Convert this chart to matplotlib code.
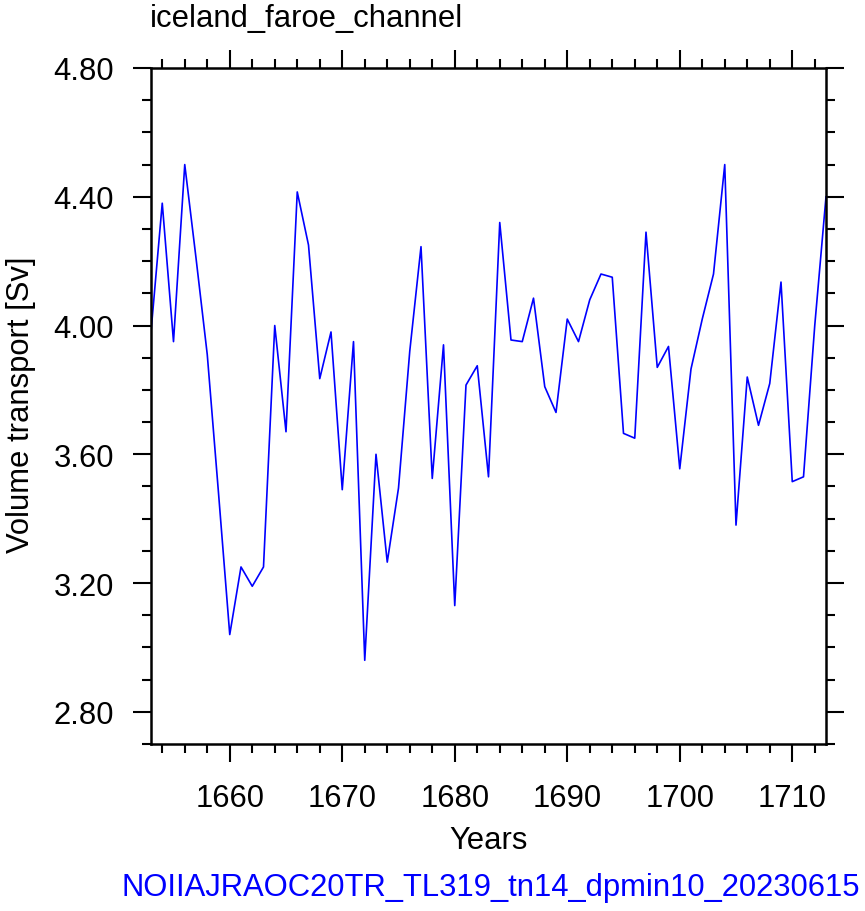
import matplotlib
matplotlib.use("Agg")
import matplotlib.pyplot as plt
from matplotlib.ticker import MultipleLocator, FixedLocator
import numpy as np

plt.rcParams['font.family'] = ['Liberation Sans', 'DejaVu Sans']

years = list(range(1653, 1714))
transport = [3.98, 4.38, 3.95, 4.50, 4.21, 3.91, 3.48, 3.04, 3.25, 3.19,
             3.25, 4.00, 3.67, 4.415, 4.25, 3.835, 3.98, 3.49, 3.95, 2.96,
             3.60, 3.265, 3.495, 3.92, 4.245, 3.525, 3.94, 3.13, 3.815, 3.875,
             3.53, 4.32, 3.955, 3.95, 4.085, 3.81, 3.73, 4.02, 3.95, 4.08,
             4.16, 4.15, 3.665, 3.65, 4.29, 3.87, 3.935, 3.555, 3.865, 4.02,
             4.16, 4.50, 3.38, 3.84, 3.69, 3.82, 4.135, 3.515, 3.53, 4.00,
             4.40]
xticks = [1660, 1670, 1680, 1690, 1700, 1710]
yticks = [2.80, 3.20, 3.60, 4.00, 4.40, 4.80]

title = "iceland_faroe_channel"
xlabel = "Years"
ylabel = "Volume transport [Sv]"
footer = "NOIIAJRAOC20TR_TL319_tn14_dpmin10_20230615"

W, H = 865, 912
fig = plt.figure(figsize=(W / 100, H / 100), dpi=100)
ax = fig.add_axes([151 / W, 1 - 745 / H, (826 - 151) / W, (745 - 69) / H])

ax.plot(years, transport, color=(0, 0, 1), lw=1.2)
ax.set_xlim(1653, 1713)
ax.set_ylim(2.70, 4.80)

ax.xaxis.set_major_locator(FixedLocator(xticks))
ax.xaxis.set_minor_locator(MultipleLocator(2))
ax.yaxis.set_major_locator(FixedLocator(yticks))
ax.yaxis.set_minor_locator(MultipleLocator(0.1))
ax.set_yticklabels([f"{v:.2f}" for v in yticks])

fs = 22.3
ax.tick_params(which='both', direction='out', top=True, right=True,
               labeltop=False, labelright=False, width=1.5, labelsize=fs)
ax.tick_params(which='major', length=13)
ax.tick_params(axis='x', which='major', pad=15)
ax.tick_params(axis='y', which='major', pad=13.5)
ax.tick_params(which='minor', length=6.3)
for s in ax.spines.values():
    s.set_linewidth(1.8)

fig.text(150 / W, 1 - 19 / H, title, fontsize=fs, ha='left', va='center')
fig.text(488.5 / W, 1 - 841 / H, xlabel, fontsize=fs, ha='center', va='center')
fig.text(21 / W, 1 - 405 / H, ylabel, fontsize=fs, ha='center', va='center',
         rotation=90)
fig.text(860 / W, 1 - 888 / H, footer, fontsize=fs, ha='right', va='center',
         color=(0, 0, 1))

fig.savefig("out.png", dpi=100)
